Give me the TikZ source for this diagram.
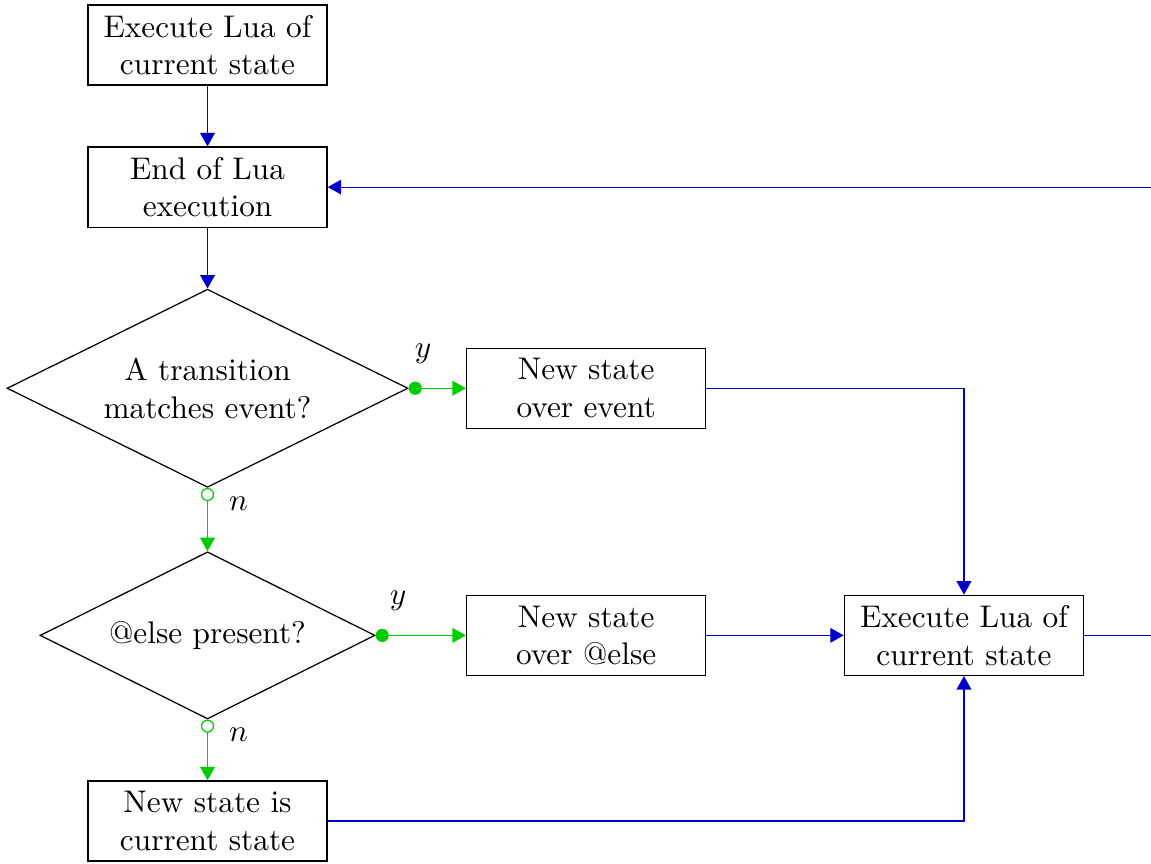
\documentclass[tikz,border=0pt]{standalone}
\usepackage{tikz}
\usetikzlibrary{arrows.meta,positioning,shapes.geometric}
\definecolor{FlowBlue}{HTML}{0000CC}
\definecolor{FlowGreen}{HTML}{00CC00}
\tikzset{
  stepbox/.style={rectangle,draw,minimum width=76.4pt,minimum height=25.6pt,
                  inner sep=2pt,align=center},
  choice/.style={diamond,draw,aspect=2,inner sep=0pt,align=center},
  flow/.style={draw=FlowBlue,-{Triangle[length=4.3pt,width=4.7pt]}},
  takeyes/.style={draw=FlowGreen,{Circle[length=4.2pt]}-{Triangle[length=4.3pt,width=4.7pt]}},
  takeno/.style={draw=FlowGreen,{Circle[open,length=4.2pt]}-{Triangle[length=4.3pt,width=4.7pt]}},
}

\begin{document}
\begin{tikzpicture}
    \useasboundingbox (-66.3pt,14.38pt) rectangle (301.4pt,-261.6pt);
    % main column
    \node[stepbox] (run) {Execute Lua of\\current state};
    \node[stepbox,below=19.4pt of run] (done) {End of Lua\\execution};
    \node[choice,minimum width=128.1pt,minimum height=63.3pt,
          below=19.4pt of done] (match) {A transition\\matches event?};
    \node[choice,minimum width=107pt,minimum height=53.4pt,
          below=20.2pt of match] (else) {@else present?};
    \node[stepbox,below=19.4pt of else] (keep) {New state is\\current state};
    % new states
    \node[stepbox,right=18.3pt of match] (byevent) {New state\\over event};
    \node[stepbox] (byelse) at (byevent |- else) {New state\\over @else};
    \node[stepbox,right=43.9pt of byelse] (runnew) {Execute Lua of\\current state};
    \coordinate[right=30pt of runnew] (loop);

    \draw[flow] (run) -- (done);
    \draw[flow] (done) -- (match);
    \draw[takeyes] (match) -- node[above=4.4pt,pos=.25,text=black]{$y$} (byevent);
    \draw[takeno] (match) -- node[right=3.4pt,pos=.25,text=black]{$n$} (else);
    \draw[takeyes] (else) -- node[above=4.4pt,pos=.25,text=black]{$y$} (byelse);
    \draw[takeno] (else) -- node[right=3.4pt,pos=.25,text=black]{$n$} (keep);
    \draw[flow] (byevent) -| (runnew);
    \draw[flow] (byelse) -- (runnew);
    \draw[flow] (keep) -| (runnew);
    \draw[flow] (runnew) -- (loop) |- (done);
\end{tikzpicture}
\end{document}
